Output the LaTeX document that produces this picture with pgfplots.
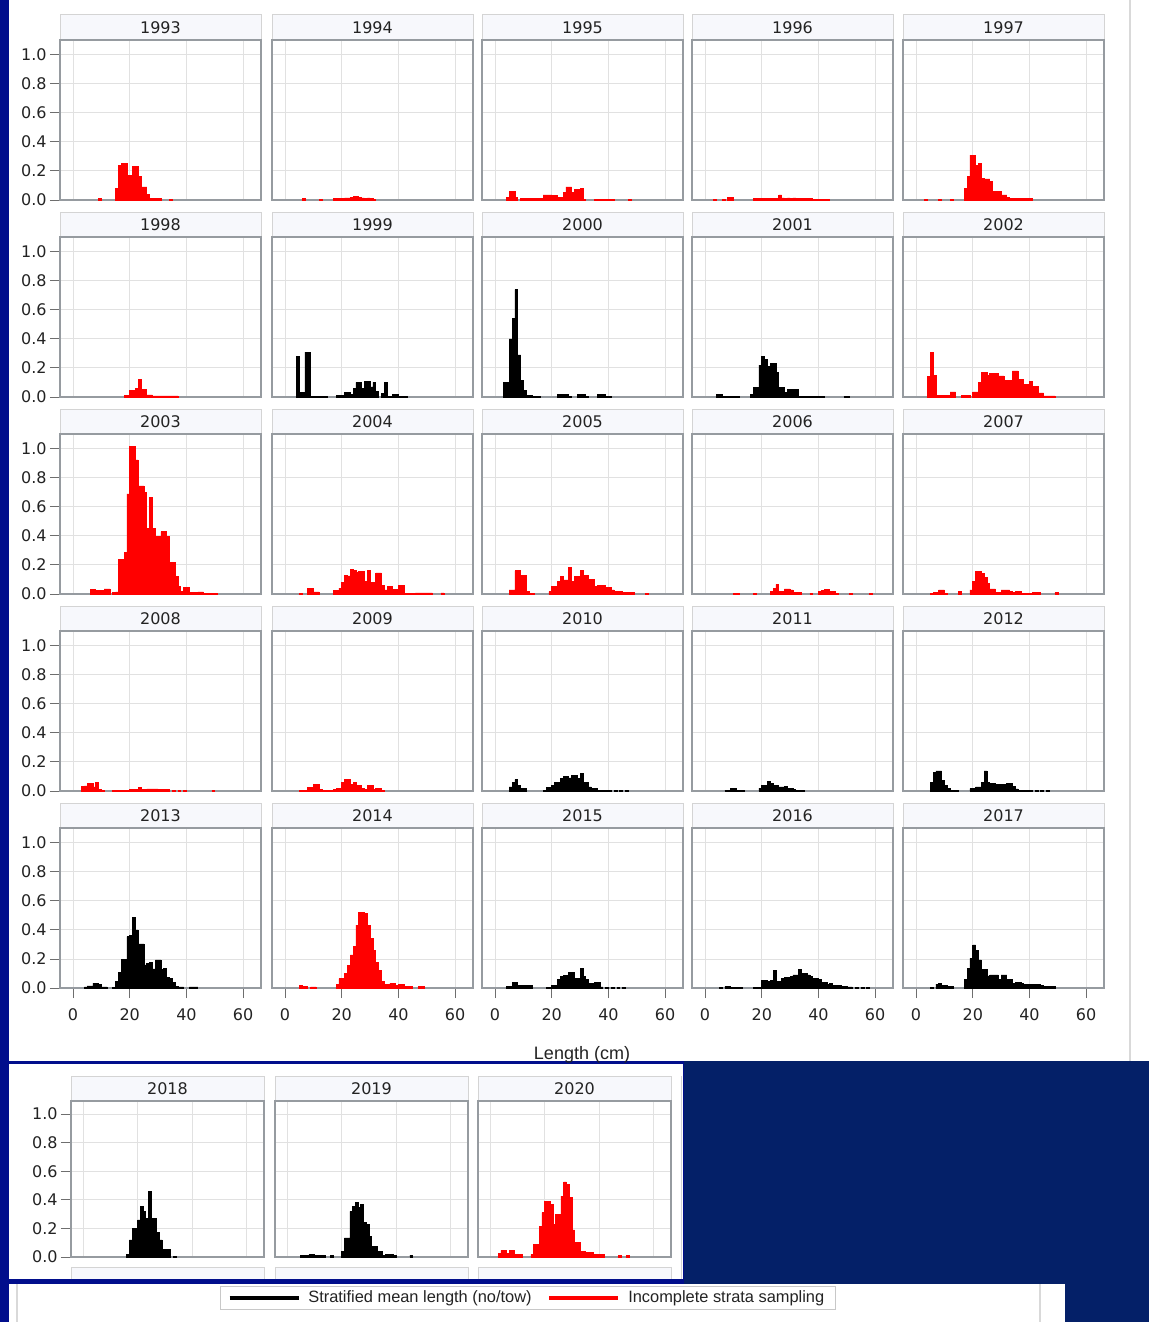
\documentclass[border=0pt]{standalone}
\usepackage{pgfplots}
\pgfplotsset{compat=1.18}
\usepackage{fontspec}
\setmainfont{DejaVu Sans}
\newfontfamily\libsans{Liberation Sans}
\definecolor{navy}{RGB}{4,32,104}
\definecolor{royal}{RGB}{1,14,140}
\definecolor{hdrfill}{RGB}{247,248,252}
\definecolor{hdrline}{RGB}{212,212,212}
\definecolor{framegray}{RGB}{150,155,160}
\definecolor{gridgray}{RGB}{225,225,225}
\definecolor{tickgray}{RGB}{110,110,110}
\definecolor{textgray}{RGB}{35,35,35}
\definecolor{legline}{RGB}{200,200,200}
\newcommand{\tickfont}{\fontsize{8}{9}\selectfont}
\newcommand{\hdrfont}{\fontsize{8}{9}\selectfont}
\newcommand{\legfont}{\libsans\fontsize{8.2}{9}\selectfont}
\pgfplotsset{
 panel/.style={
  scale only axis, anchor=north west,
  xmin=-4.6, xmax=66.3, ymin=0, ymax=1.103,
  xtick={0,20,40,60}, ytick={0,0.2,0.4,0.6,0.8,1.0},
  xticklabels={}, yticklabels={},
  grid=major, major grid style={draw=gridgray, line width=0.5pt},
  axis line style={draw=framegray, line width=0.7pt},
  xtick style={draw=none}, ytick style={draw=none},
  tick align=outside, major tick length=5pt,
  ticklabel style={font=\tickfont, text=textgray},
 },
 ylab/.style={yticklabels={0.0,0.2,0.4,0.6,0.8,1.0}, ytick style={draw=tickgray, line width=0.5pt}, ytick pos=left, yticklabel style={inner sep=1.5pt}},
 xlab/.style={xticklabels={0,20,40,60}, xtick style={draw=tickgray, line width=0.5pt}, xtick pos=bottom, xticklabel style={yshift=-2pt}},
 bot/.style={xmin=-4.4, xmax=66.3, ymax=1.091},
}
% #1 options, #2 left (pt), #3 top of plot (pt, downwards), #4 width, #5 height, #6 year, #7 colour, #8 data
\newcommand{\yp}[8][]{%
  \draw[draw=hdrline, fill=hdrfill, line width=0.5pt] (#2pt,-#3pt) rectangle ({#2pt+#4pt},{-#3pt+12.5pt});
  \node[font=\hdrfont, text=textgray, inner sep=0pt] at ({#2pt+#4pt/2},{-#3pt+6.25pt}) {#6};
  \begin{axis}[panel, at={(#2pt,-#3pt)}, width=#4pt, height=#5pt, #1]
    \addplot[ybar, bar width=1, bar shift=0.5, fill=#7, draw=#7, line width=0.3pt] coordinates {#8};
  \end{axis}%
}
\begin{document}
\begin{tikzpicture}
\useasboundingbox (0,0) rectangle (574.5pt,-661pt);
\fill[navy] (0,0) rectangle (574.5pt,-661pt);
\fill[royal] (0,0) rectangle (4.5pt,-661pt);
\fill[royal] (0,-530.5pt) rectangle (342pt,-642pt);
\fill[white] (4.5pt,0) rectangle (574.5pt,-530.5pt);
\fill[white] (4.5pt,-532pt) rectangle (341.5pt,-639.5pt);
\fill[white] (4.5pt,-642pt) rectangle (532.5pt,-661pt);
\draw[gray!30, line width=1pt] (565pt,0) -- (565pt,-530.5pt);
\draw[gray!30, line width=0.8pt] (520pt,-642pt) -- (520pt,-661pt);
\draw[gray!30, line width=0.8pt] (8.5pt,-642pt) -- (8.5pt,-661pt);

% ---- row 1
\yp[ylab]{30}{20}{100.5}{80}{1993}{red}{(9,0.01)(15,0.08)(16,0.24)(17,0.25)(18,0.25)(19,0.17)(20,0.17)(21,0.23)(22,0.23)(23,0.16)(24,0.09)(25,0.09)(26,0.04)(27,0.012)(28,0.01)(29,0.01)(30,0.01)(34,0.005)}
\yp{136}{20}{100.5}{80}{1994}{red}{(6,0.01)(12,0.005)(17,0.01)(18,0.01)(19,0.01)(20,0.01)(21,0.015)(22,0.015)(23,0.02)(24,0.025)(25,0.025)(26,0.02)(27,0.015)(28,0.01)(29,0.015)(30,0.01)(31,0.005)}
\yp{241}{20}{100.5}{80}{1995}{red}{(4,0.02)(5,0.06)(6,0.06)(7,0.02)(9,0.012)(10,0.012)(11,0.012)(12,0.012)(13,0.012)(14,0.012)(15,0.012)(16,0.012)(17,0.035)(18,0.035)(19,0.035)(20,0.03)(21,0.03)(22,0.02)(23,0.02)(24,0.055)(25,0.09)(26,0.09)(27,0.055)(28,0.075)(29,0.075)(30,0.08)(31,0.005)(35,0.005)(36,0.005)(37,0.005)(38,0.005)(39,0.005)(40,0.005)(41,0.005)(47,0.005)}
\yp{346}{20}{100.5}{80}{1996}{red}{(3,0.005)(6,0.005)(8,0.02)(9,0.02)(17,0.01)(18,0.01)(19,0.01)(20,0.012)(21,0.01)(22,0.012)(23,0.01)(24,0.012)(25,0.012)(26,0.035)(27,0.015)(28,0.012)(29,0.015)(30,0.012)(31,0.015)(32,0.012)(33,0.012)(34,0.012)(35,0.012)(36,0.01)(37,0.01)(38,0.005)(39,0.005)(40,0.005)(41,0.005)(42,0.005)(43,0.005)}
\yp{451.5}{20}{100.5}{80}{1997}{red}{(3,0.005)(8,0.005)(12,0.005)(17,0.08)(18,0.16)(19,0.31)(20,0.31)(21,0.24)(22,0.25)(23,0.15)(24,0.145)(25,0.145)(26,0.13)(27,0.06)(28,0.06)(29,0.06)(30,0.035)(31,0.035)(32,0.02)(33,0.01)(34,0.01)(35,0.01)(36,0.01)(37,0.01)(38,0.01)(39,0.01)(40,0.01)}
% ---- row 2
\yp[ylab]{30}{118.5}{100.5}{80}{1998}{red}{(18,0.01)(19,0.01)(20,0.045)(21,0.045)(22,0.06)(23,0.12)(24,0.05)(25,0.05)(26,0.015)(27,0.015)(28,0.008)(29,0.008)(30,0.008)(31,0.008)(32,0.008)(33,0.008)(34,0.008)(35,0.008)(36,0.008)}
\yp{136}{118.5}{100.5}{80}{1999}{black}{(4,0.28)(5,0.03)(6,0.03)(7,0.31)(8,0.31)(9,0.003)(10,0.003)(11,0.003)(12,0.003)(13,0.003)(14,0.003)(18,0.012)(19,0.012)(20,0.012)(21,0.03)(22,0.03)(23,0.02)(24,0.06)(25,0.1)(26,0.1)(27,0.06)(28,0.11)(29,0.11)(30,0.07)(31,0.1)(32,0.04)(34,0.025)(35,0.1)(36,0.005)(37,0.005)(38,0.02)(39,0.02)(40,0.003)(41,0.003)(42,0.003)}
\yp{241}{118.5}{100.5}{80}{2000}{black}{(3,0.1)(4,0.1)(5,0.4)(6,0.54)(7,0.74)(8,0.29)(9,0.115)(10,0.046)(11,0.01)(12,0.01)(13,0.003)(14,0.003)(15,0.003)(22,0.02)(23,0.02)(24,0.02)(25,0.02)(26,0.003)(29,0.02)(30,0.02)(31,0.02)(32,0.003)(36,0.02)(37,0.02)(38,0.02)(39,0.005)(40,0.005)}
\yp{346}{118.5}{100.5}{80}{2001}{black}{(4,0.02)(5,0.02)(6,0.003)(7,0.003)(8,0.003)(9,0.003)(10,0.003)(11,0.003)(16,0.02)(17,0.065)(18,0.065)(19,0.22)(20,0.28)(21,0.26)(22,0.21)(23,0.23)(24,0.23)(25,0.17)(26,0.065)(27,0.065)(28,0.03)(29,0.05)(30,0.05)(31,0.05)(32,0.05)(33,0.005)(34,0.005)(35,0.005)(36,0.003)(37,0.003)(38,0.003)(39,0.003)(40,0.003)(41,0.003)(49,0.003)(50,0.003)}
\yp{451.5}{118.5}{100.5}{80}{2002}{red}{(4,0.14)(5,0.305)(6,0.15)(7,0.012)(8,0.012)(9,0.012)(10,0.012)(11,0.012)(12,0.035)(13,0.035)(16,0.012)(17,0.012)(18,0.012)(20,0.035)(21,0.035)(22,0.1)(23,0.17)(24,0.17)(25,0.15)(26,0.16)(27,0.16)(28,0.16)(29,0.145)(30,0.145)(31,0.115)(32,0.115)(33,0.115)(34,0.18)(35,0.18)(36,0.12)(37,0.12)(38,0.085)(39,0.085)(40,0.11)(41,0.075)(42,0.075)(43,0.028)(44,0.028)(45,0.007)(46,0.007)(47,0.007)(48,0.007)}
% ---- row 3
\yp[ylab]{30}{217}{100.5}{80}{2003}{red}{(6,0.03)(7,0.03)(8,0.025)(9,0.023)(10,0.023)(11,0.035)(12,0.035)(14,0.01)(15,0.015)(16,0.24)(17,0.24)(18,0.285)(19,0.69)(20,1.015)(21,1.015)(22,0.925)(23,0.745)(24,0.745)(25,0.7)(26,0.45)(27,0.667)(28,0.45)(29,0.395)(30,0.395)(31,0.43)(32,0.43)(33,0.395)(34,0.22)(35,0.22)(36,0.12)(37,0.05)(38,0.016)(39,0.045)(40,0.045)(41,0.01)(42,0.01)(43,0.01)(44,0.015)(45,0.015)(46,0.005)(47,0.005)(48,0.005)(49,0.005)(50,0.005)}
\yp{136}{217}{100.5}{80}{2004}{red}{(5,0.005)(8,0.037)(9,0.037)(10,0.014)(11,0.014)(17,0.023)(18,0.023)(19,0.04)(20,0.08)(21,0.13)(22,0.125)(23,0.17)(24,0.165)(25,0.147)(26,0.155)(27,0.155)(28,0.085)(29,0.16)(30,0.08)(31,0.08)(32,0.145)(33,0.145)(34,0.062)(35,0.028)(36,0.05)(37,0.05)(38,0.034)(39,0.034)(40,0.062)(41,0.062)(42,0.003)(43,0.003)(44,0.003)(45,0.003)(46,0.008)(47,0.008)(48,0.008)(49,0.008)(50,0.008)(51,0.008)(55,0.008)}
\yp{241}{217}{100.5}{80}{2005}{red}{(5,0.028)(6,0.028)(7,0.16)(8,0.16)(9,0.126)(10,0.126)(11,0.016)(12,0.005)(13,0.005)(19,0.016)(20,0.05)(21,0.05)(22,0.085)(23,0.12)(24,0.097)(25,0.097)(26,0.185)(27,0.085)(28,0.12)(29,0.12)(30,0.16)(31,0.126)(32,0.126)(33,0.1)(34,0.1)(35,0.05)(36,0.062)(37,0.062)(38,0.062)(39,0.046)(40,0.046)(41,0.028)(42,0.016)(43,0.016)(44,0.016)(45,0.012)(46,0.012)(47,0.012)(48,0.012)(53,0.005)}
\yp{346}{217}{100.5}{80}{2006}{red}{(10,0.005)(11,0.005)(17,0.005)(23,0.016)(24,0.04)(25,0.067)(26,0.016)(27,0.016)(28,0.035)(29,0.035)(30,0.028)(31,0.012)(32,0.012)(33,0.012)(37,0.005)(40,0.016)(41,0.023)(42,0.032)(43,0.032)(44,0.016)(45,0.016)(46,0.005)(51,0.005)(58,0.005)}
\yp{451.5}{217}{100.5}{80}{2007}{red}{(5,0.005)(6,0.01)(7,0.01)(8,0.028)(9,0.028)(10,0.003)(15,0.016)(19,0.028)(20,0.085)(21,0.154)(22,0.154)(23,0.143)(24,0.115)(25,0.074)(26,0.035)(27,0.035)(28,0.012)(29,0.012)(30,0.028)(31,0.028)(32,0.028)(33,0.02)(34,0.01)(35,0.016)(36,0.016)(37,0.005)(38,0.005)(39,0.005)(40,0.005)(41,0.01)(42,0.01)(43,0.01)(49,0.01)}
% ---- row 4
\yp[ylab]{30}{315.5}{100.5}{80}{2008}{red}{(3,0.032)(4,0.035)(5,0.05)(6,0.05)(7,0.028)(8,0.062)(9,0.012)(10,0.005)(14,0.003)(15,0.003)(16,0.003)(17,0.003)(18,0.003)(19,0.003)(20,0.012)(21,0.012)(22,0.012)(23,0.023)(24,0.012)(25,0.012)(26,0.014)(27,0.014)(28,0.014)(29,0.014)(30,0.01)(31,0.01)(32,0.01)(33,0.01)(35,0.003)(37,0.003)(39,0.003)(49,0.003)}
\yp{136}{315.5}{100.5}{80}{2009}{red}{(5,0.005)(6,0.005)(7,0.005)(8,0.023)(9,0.023)(10,0.046)(11,0.046)(12,0.012)(13,0.005)(14,0.005)(15,0.005)(16,0.005)(17,0.01)(18,0.016)(19,0.016)(20,0.062)(21,0.08)(22,0.08)(23,0.046)(24,0.062)(25,0.04)(26,0.04)(27,0.016)(28,0.01)(29,0.04)(30,0.04)(31,0.01)(32,0.016)(33,0.016)(34,0.005)}
\yp{241}{315.5}{100.5}{80}{2010}{black}{(5,0.028)(6,0.062)(7,0.078)(8,0.04)(9,0.016)(10,0.016)(17,0.005)(18,0.023)(19,0.023)(20,0.04)(21,0.062)(22,0.062)(23,0.085)(24,0.103)(25,0.103)(26,0.09)(27,0.108)(28,0.108)(29,0.085)(30,0.12)(31,0.062)(32,0.062)(33,0.028)(34,0.016)(35,0.016)(36,0.005)(37,0.005)(38,0.005)(39,0.005)(40,0.005)(42,0.003)(44,0.003)(46,0.003)}
\yp{346}{315.5}{100.5}{80}{2011}{black}{(7,0.005)(8,0.005)(9,0.016)(10,0.016)(11,0.005)(12,0.005)(13,0.005)(19,0.02)(20,0.04)(21,0.04)(22,0.067)(23,0.05)(24,0.04)(25,0.04)(26,0.028)(27,0.028)(28,0.032)(29,0.02)(30,0.02)(31,0.012)(32,0.005)(33,0.005)(34,0.005)}
\yp{451.5}{315.5}{100.5}{80}{2012}{black}{(5,0.062)(6,0.13)(7,0.138)(8,0.138)(9,0.074)(10,0.04)(11,0.016)(12,0.005)(13,0.005)(14,0.005)(19,0.016)(20,0.016)(21,0.028)(22,0.028)(23,0.062)(24,0.138)(25,0.062)(26,0.05)(27,0.05)(28,0.044)(29,0.044)(30,0.044)(31,0.044)(32,0.05)(33,0.05)(34,0.032)(35,0.014)(36,0.005)(37,0.005)(38,0.005)(39,0.005)(40,0.005)(42,0.003)(44,0.003)(46,0.003)}
% ---- row 5
\yp[ylab,xlab]{30}{414}{100.5}{80}{2013}{black}{(4,0.007)(5,0.014)(6,0.014)(7,0.034)(8,0.034)(9,0.023)(10,0.007)(11,0.007)(14,0.005)(15,0.046)(16,0.11)(17,0.195)(18,0.195)(19,0.354)(20,0.365)(21,0.486)(22,0.4)(23,0.304)(24,0.304)(25,0.16)(26,0.167)(27,0.178)(28,0.132)(29,0.194)(30,0.194)(31,0.126)(32,0.137)(33,0.075)(34,0.068)(35,0.039)(36,0.011)(37,0.007)(38,0.007)(41,0.007)(42,0.007)(43,0.007)}
\yp[xlab]{136}{414}{100.5}{80}{2014}{red}{(5,0.018)(6,0.011)(7,0.011)(9,0.007)(10,0.007)(18,0.023)(19,0.064)(20,0.064)(21,0.103)(22,0.155)(23,0.228)(24,0.285)(25,0.434)(26,0.523)(27,0.523)(28,0.514)(29,0.434)(30,0.342)(31,0.262)(32,0.178)(33,0.119)(34,0.046)(35,0.027)(36,0.023)(37,0.034)(38,0.034)(39,0.016)(40,0.023)(41,0.023)(42,0.01)(43,0.01)(44,0.01)(47,0.01)(48,0.01)}
\yp[xlab]{241}{414}{100.5}{80}{2015}{black}{(4,0.011)(5,0.011)(6,0.041)(7,0.041)(8,0.018)(9,0.018)(10,0.016)(11,0.016)(12,0.016)(18,0.005)(19,0.005)(20,0.018)(21,0.018)(22,0.062)(23,0.08)(24,0.087)(25,0.087)(26,0.11)(27,0.11)(28,0.064)(29,0.064)(30,0.137)(31,0.08)(32,0.057)(33,0.034)(34,0.034)(35,0.039)(36,0.039)(37,0.007)(39,0.003)(41,0.003)(43,0.003)(45,0.003)}
\yp[xlab]{346}{414}{100.5}{80}{2016}{black}{(5,0.005)(7,0.011)(8,0.011)(9,0.005)(10,0.005)(11,0.005)(12,0.005)(17,0.005)(18,0.005)(19,0.005)(20,0.05)(21,0.05)(22,0.046)(23,0.05)(24,0.121)(25,0.046)(26,0.046)(27,0.068)(28,0.073)(29,0.073)(30,0.08)(31,0.09)(32,0.09)(33,0.126)(34,0.103)(35,0.103)(36,0.09)(37,0.08)(38,0.068)(39,0.068)(40,0.057)(41,0.041)(42,0.041)(43,0.023)(44,0.034)(45,0.018)(46,0.018)(47,0.018)(48,0.011)(49,0.011)(50,0.007)(51,0.007)(53,0.003)(55,0.003)(57,0.003)}
\yp[xlab]{451.5}{414}{100.5}{80}{2017}{black}{(5,0.005)(7,0.027)(8,0.034)(9,0.018)(10,0.018)(11,0.011)(12,0.011)(17,0.057)(18,0.137)(19,0.205)(20,0.297)(21,0.262)(22,0.194)(23,0.126)(24,0.126)(25,0.084)(26,0.09)(27,0.09)(28,0.09)(29,0.057)(30,0.09)(31,0.09)(32,0.057)(33,0.057)(34,0.034)(35,0.039)(36,0.039)(37,0.034)(38,0.027)(39,0.027)(40,0.027)(41,0.023)(42,0.023)(43,0.023)(44,0.016)(45,0.011)(46,0.011)(47,0.011)(48,0.011)}
\node[font=\libsans\fontsize{9}{10}\selectfont, text=textgray, inner sep=0pt] at (291pt,-527.5pt) {Length (cm)};

% ---- bottom screenshot
\yp[bot,ylab]{35.5}{550.5}{96.5}{78}{2018}{black}{(16,0.016)(17,0.12)(18,0.2)(19,0.2)(20,0.26)(21,0.355)(22,0.32)(23,0.27)(24,0.46)(25,0.27)(26,0.27)(27,0.17)(28,0.12)(29,0.056)(30,0.056)(31,0.056)(33,0.005)}
\yp[bot]{137.5}{550.5}{96.5}{78}{2019}{black}{(5,0.01)(6,0.01)(7,0.01)(8,0.016)(9,0.016)(10,0.01)(11,0.01)(12,0.01)(13,0.01)(16,0.01)(20,0.04)(21,0.133)(22,0.133)(23,0.32)(24,0.355)(25,0.38)(26,0.345)(27,0.37)(28,0.24)(29,0.227)(30,0.145)(31,0.075)(32,0.075)(33,0.04)(34,0.04)(35,0.01)(36,0.02)(37,0.02)(38,0.02)(39,0.01)(45,0.014)}
\yp[bot]{239}{550.5}{96.5}{78}{2020}{red}{(3,0.028)(4,0.047)(5,0.047)(6,0.028)(7,0.047)(8,0.047)(9,0.02)(10,0.02)(11,0.02)(15,0.016)(16,0.087)(17,0.087)(18,0.215)(19,0.31)(20,0.39)(21,0.39)(22,0.37)(23,0.227)(24,0.3)(25,0.3)(26,0.426)(27,0.525)(28,0.51)(29,0.415)(30,0.19)(31,0.1)(32,0.1)(33,0.04)(34,0.04)(35,0.033)(36,0.033)(37,0.033)(38,0.016)(39,0.016)(40,0.016)(41,0.016)(47,0.014)(50,0.014)}
% partial headers of the next row and next column
\draw[draw=hdrline, fill=hdrfill, line width=0.5pt] (35.5pt,-639.5pt) -- (35.5pt,-633.5pt) -- (132pt,-633.5pt) -- (132pt,-639.5pt);
\draw[draw=hdrline, fill=hdrfill, line width=0.5pt] (137.5pt,-639.5pt) -- (137.5pt,-633.5pt) -- (234pt,-633.5pt) -- (234pt,-639.5pt);
\draw[draw=hdrline, fill=hdrfill, line width=0.5pt] (239pt,-639.5pt) -- (239pt,-633.5pt) -- (335.5pt,-633.5pt) -- (335.5pt,-639.5pt);
\draw[draw=hdrline, line width=0.5pt] (340.5pt,-538pt) -- (340.5pt,-639.5pt);

% ---- legend
\begin{axis}[at={(110pt,-643.5pt)}, anchor=north west, scale only axis, width=308pt, height=11pt,
  hide axis, xmin=0, xmax=1, ymin=0, ymax=1,
  legend columns=2,
  legend style={at={(0.5,0.5)}, anchor=center, draw=legline, line width=0.5pt, font=\legfont, text=textgray,
    inner xsep=3.5pt, inner ysep=0pt, /tikz/every even column/.append style={column sep=6pt}},
  legend image code/.code={\draw[#1] (0pt,0pt) -- (34.5pt,0pt); \path (36.5pt,0pt);}]
\addlegendimage{black, line width=1.8pt}
\addlegendentry{Stratified mean length (no/tow)}
\addlegendimage{red, line width=1.8pt}
\addlegendentry{Incomplete strata sampling}
\end{axis}
\end{tikzpicture}
\end{document}
